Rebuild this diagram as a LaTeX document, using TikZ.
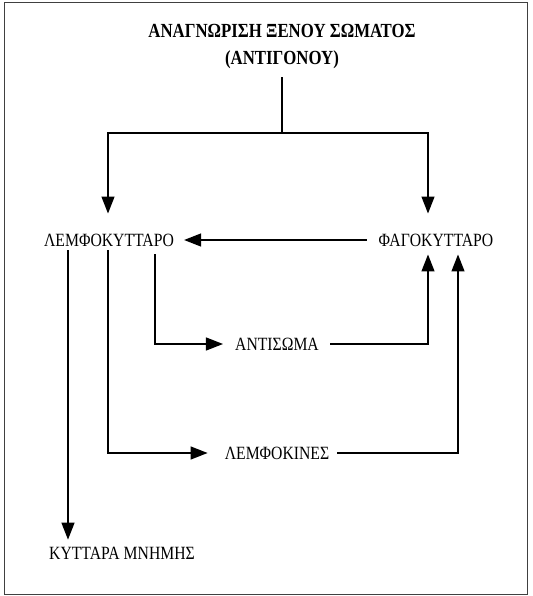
\documentclass[tikz,border=0pt]{standalone}
\usepackage{fontspec}
\setmainfont{Liberation Serif}[FakeStretch=0.84]
\usetikzlibrary{arrows.meta}
\tikzset{
  lbl/.style={inner sep=0pt, font=\fontsize{18.7}{27}\selectfont, align=center},
  head/.style={lbl, font=\fontsize{20}{27}\selectfont\bfseries},
  arr/.style={line width=1.3pt, -{Triangle[length=17pt,width=13pt]}},
  plain/.style={line width=1.3pt},
  frame/.style={line width=0.8pt, draw=black!75}
}
\begin{document}
\begin{tikzpicture}[x=1pt,y=-1pt]
      \useasboundingbox (0,0) rectangle (532,596);
      \draw[frame] (4,2) rectangle (527,594);
      \node[head] (antigen) at (282,47) {ΑΝΑΓΝΩΡΙΣΗ ΞΕΝΟΥ ΣΩΜΑΤΟΣ\\(ΑΝΤΙΓΟΝΟΥ)};
      \node[lbl] (lemfo) at (109,240) {ΛΕΜΦΟΚΥΤΤΑΡΟ};
      \node[lbl] (fago) at (436,240) {ΦΑΓΟΚΥΤΤΑΡΟ};
      \node[lbl] (antisoma) at (277,344) {ΑΝΤΙΣΩΜΑ};
      \node[lbl] (lemfokines) at (277,453) {ΛΕΜΦΟΚΙΝΕΣ};
      \node[lbl] (memory) at (122,553) {ΚΥΤΤΑΡΑ ΜΝΗΜΗΣ};
      \coordinate (split) at (282,133);
      \coordinate (memtop) at ([yshift=7pt]memory.north);
      \coordinate (lemfoleft) at ([xshift=-41pt,yshift=-4pt]lemfo.south);
      \draw[plain, shorten <=8pt] (antigen.south -| split) -- (split);
      \begin{scope}[arr]
        \draw[shorten >=20pt] (split) -| ([xshift=-1pt]lemfo.north);
        \draw[shorten >=20pt] (split) -| ([xshift=-8pt]fago.north);
        \draw[shorten <=12pt, shorten >=10pt] (fago) -- (lemfo);
        \draw[shorten >=12pt] ([xshift=46pt,yshift=-8pt]lemfo.south) |- (antisoma.west);
        \draw[shorten <=11pt, shorten >=8pt] (antisoma.east) -| ([xshift=-8pt]fago.south);
        \draw[shorten >=17pt] ([xshift=-1pt,yshift=-4pt]lemfo.south) |- (lemfokines.west);
        \draw[shorten <=8pt, shorten >=8pt] (lemfokines.east) -| ([xshift=22pt]fago.south);
        \draw (lemfoleft) -- (lemfoleft |- memtop);
      \end{scope}
    \end{tikzpicture}
\end{document}
